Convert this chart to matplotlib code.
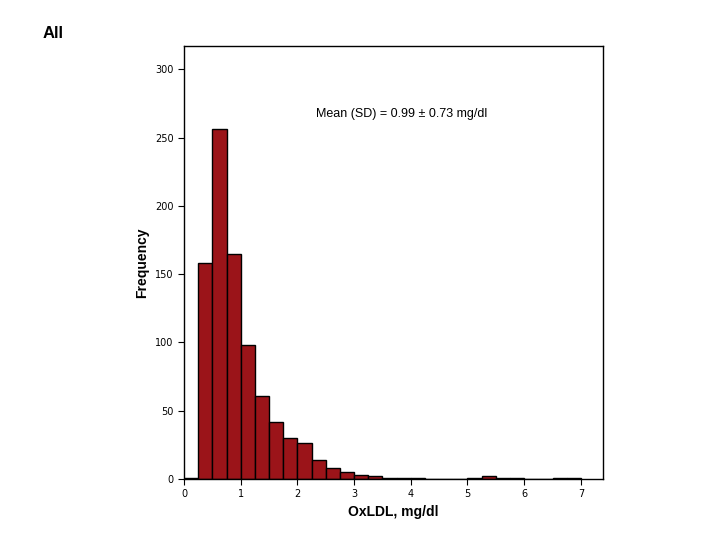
import numpy as np
import matplotlib.pyplot as plt

bin_edges = np.arange(0, 7.0001, 0.25)
counts = [1, 158, 256, 165, 98, 61, 42, 30, 26, 14, 8, 5, 3, 2, 1, 1, 1,
          0, 0, 0, 1, 2, 1, 1, 0, 0, 1, 1]
y_ticks = [0, 50, 100, 150, 200, 250, 300]
x_ticks = [0, 1, 2, 3, 4, 5, 6, 7]

fig = plt.figure(figsize=(7.2, 5.4), dpi=100)
ax = fig.add_axes([184/720, 1-479/540, (603-184)/720, (479-46)/540])
ax.bar(bin_edges[:-1], counts, width=0.25, align='edge',
       color='#9b1419', edgecolor='black', linewidth=1)
ax.set_xlim(0, 7.39)
ax.set_ylim(0, 317)
ax.set_xticks(x_ticks)
ax.set_yticks(y_ticks)
ax.tick_params(labelsize=7, length=4, direction='out')
for s in ax.spines.values():
    s.set_linewidth(1)
ax.set_xlabel('OxLDL, mg/dl', fontsize=10, fontweight='bold', family='Liberation Sans')
ax.set_ylabel('Frequency', fontsize=10, fontweight='bold', family='Liberation Sans')
ax.text(0.52, 0.835, 'Mean (SD) = 0.99 ± 0.73 mg/dl', transform=ax.transAxes,
        ha='center', fontsize=9, family='Liberation Sans')
fig.text(43/720, 1-33/540, 'All', fontsize=12, fontweight='bold',
         family='Liberation Sans', va='center')
fig.savefig('out.png', dpi=100)
